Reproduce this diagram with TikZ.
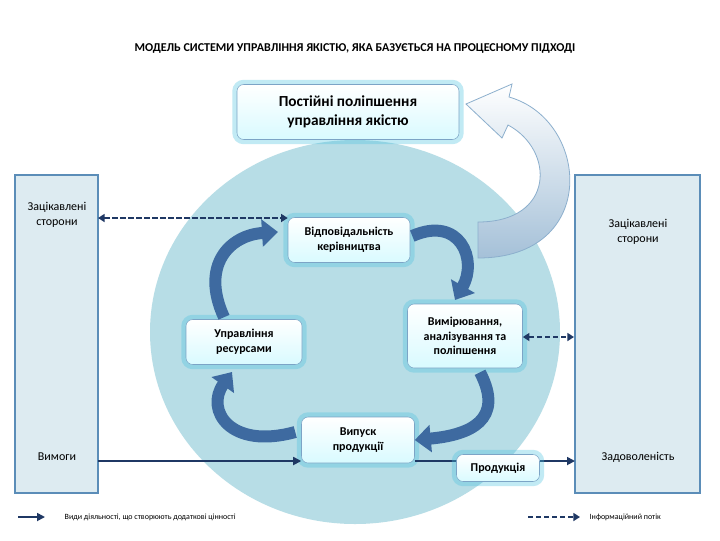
\documentclass[tikz,border=0pt]{standalone}
\usepackage{fontspec}
\setmainfont{Carlito}
\usetikzlibrary{arrows.meta,shadings}
\definecolor{navy}{HTML}{1F3864}
\definecolor{circ}{HTML}{B7DDE6}
\definecolor{side}{HTML}{DDEBF1}
\definecolor{sideb}{HTML}{5B8DB8}
\definecolor{arr}{HTML}{3E6AA0}
\definecolor{glow}{HTML}{4FC3E0}
\tikzset{
 box/.style={draw=sideb!80,rounded corners=5pt,top color=white,bottom color=blue!12!cyan!15,align=center,font=\bfseries\fontsize{9}{11}\selectfont,text=black,inner sep=2pt,
   preaction={draw=glow,line width=7pt,opacity=0.35,rounded corners=6pt}},
 sidebox/.style={draw=sideb,fill=side,line width=0.8pt},
 sol/.style={draw=navy,line width=1.3pt,-{Triangle[length=6pt,width=6pt]}},
 dsh/.style={draw=navy,line width=1.3pt,dashed,dash pattern=on 4pt off 2pt,{Triangle[length=5pt,width=6pt]}-{Triangle[length=5pt,width=6pt]}},
 bigarr/.style={draw=arr,line width=9pt,-{Triangle[length=12pt,width=20pt]}},
}
\begin{document}
\begin{tikzpicture}[x=0.75pt,y=-0.75pt]
\useasboundingbox (0,0) rectangle (720,540);
\fill[white] (0,0) rectangle (720,540);
\fill[circ] (355,332) ellipse [x radius=205, y radius=192];
\draw[sidebox] (15,175) rectangle (98,493);
\draw[sidebox] (575,175) rectangle (700,493);
\node[font=\bfseries\fontsize{9}{11}\selectfont] (title) at (355,48) {МОДЕЛЬ СИСТЕМИ УПРАВЛІННЯ ЯКІСТЮ, ЯКА БАЗУЄТЬСЯ НА ПРОЦЕСНОМУ ПІДХОДІ};
\node[align=center,font=\fontsize{9}{11}\selectfont] (zl) at (57,215) {Зацікавлені\\сторони};
\node[font=\fontsize{9}{11}\selectfont] (vym) at (57,457) {Вимоги};
\node[align=center,font=\fontsize{9}{11}\selectfont] (zr) at (638,232) {Зацікавлені\\сторони};
\node[font=\fontsize{9}{11}\selectfont] (zad) at (638,457) {Задоволеність};
\coordinate (Lr) at (98,461); \coordinate (Rr) at (575,461);
\coordinate (Ld) at (98,218); \coordinate (Rd) at (574,337);
% big light arrow
\draw[draw=sideb!70,line width=0.6pt,top color=white,bottom color=sideb!55,shading angle=0]
 (478,258) -- (478,222) .. controls (555,222) and (555,150) .. (508,125)
 -- (502,138) -- (466,104) -- (512,84) -- (509,97)
 .. controls (590,120) and (600,258) .. (478,258) -- cycle;
\node[box,minimum width=222pt*0.75,minimum height=55pt*0.75,font=\bfseries\fontsize{11.5}{14}\selectfont] (top) at (348,112) {Постійні поліпшення\\управління якістю};
\node[box,minimum width=122pt*0.75,minimum height=45pt*0.75] (vid) at (349,240) {Відповідальність\\керівництва};
\node[box,minimum width=116pt*0.75,minimum height=45pt*0.75] (upr) at (244,342) {Управління\\ресурсами};
\node[box,minimum width=115pt*0.75,minimum height=64pt*0.75] (vim) at (465,336) {Вимірювання,\\аналізування та\\поліпшення};
\node[box,minimum width=113pt*0.75,minimum height=46pt*0.75] (vyp) at (358,440) {Випуск\\продукції};
\draw[sol] (Lr) -- (vyp.west |- Lr);
\draw[sol] (vyp.east |- Rr) -- (Rr);
\node[box,minimum width=83pt*0.75,minimum height=27pt*0.75] (prod) at (498,468) {Продукція};
\draw[dsh] (Ld) -- (vid.north west |- Ld);
\draw[dsh] (vim.east |- Rd) -- (Rd);
% curved arrows
\draw[bigarr] (vid.east) ++(2,-4) .. controls (460,215) and (478,260) .. (455,300);
\draw[bigarr] (vim.south) ++(15,4) .. controls (505,420) and (470,435) .. (vyp.east);
\draw[bigarr] (vyp.west) ++(-6,-8) .. controls (230,450) and (205,410) .. (232,372);
\draw[bigarr] (upr.north) ++(-20,-2) .. controls (200,265) and (230,235) .. (278,232);
% legend
\coordinate (l1a) at (18,517); \coordinate (l1b) at (45,517);
\coordinate (l2a) at (528,517); \coordinate (l2b) at (580,517);
\draw[sol] (l1a) -- (l1b);
\draw[draw=navy,line width=1.3pt,dash pattern=on 4pt off 2pt,-{Triangle[length=5pt,width=6pt]}] (l2a) -- (l2b);
\node[anchor=west,font=\fontsize{6}{7}\selectfont] (leg1) at (60,517) {Види діяльності, що створюють додаткові цінності};
\node[anchor=west,font=\fontsize{6}{7}\selectfont] (leg2) at (585,517) {Інформаційний потік};
\end{tikzpicture}
\end{document}
